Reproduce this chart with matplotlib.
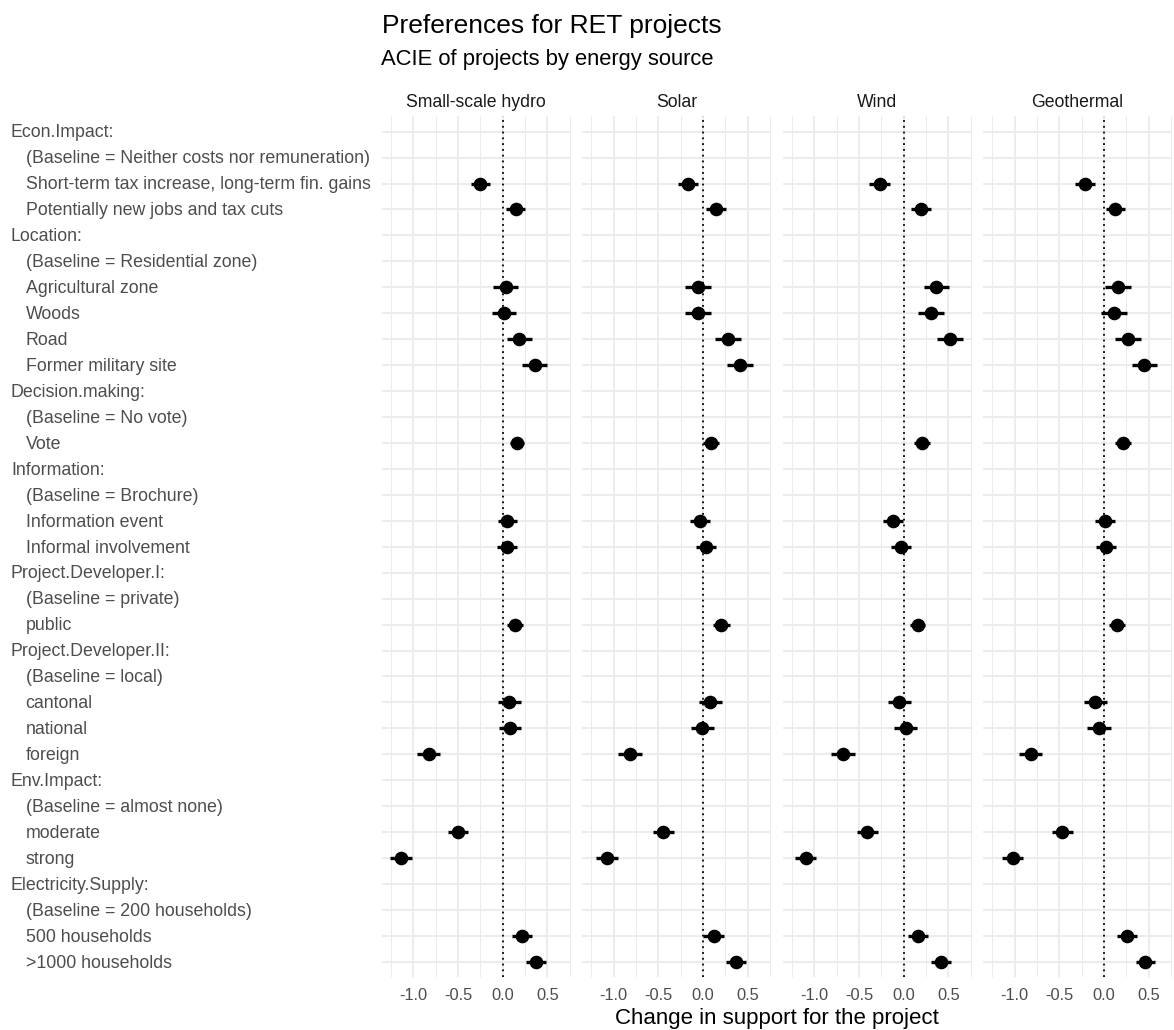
import numpy as np
import matplotlib
matplotlib.use('Agg')
import matplotlib.pyplot as plt
from matplotlib import transforms

plt.rcParams['font.family'] = ['Liberation Sans', 'DejaVu Sans']
plt.rcParams['axes.unicode_minus'] = False

# Facets (energy sources)
sources = ['Small-scale hydro', 'Solar', 'Wind', 'Geothermal']

# Rows of the y axis, top to bottom
row_labels = [
    'Econ.Impact:',
    '(Baseline = Neither costs nor remuneration)',
    'Short-term tax increase, long-term fin. gains',
    'Potentially new jobs and tax cuts',
    'Location:',
    '(Baseline = Residential zone)',
    'Agricultural zone',
    'Woods',
    'Road',
    'Former military site',
    'Decision.making:',
    '(Baseline = No vote)',
    'Vote',
    'Information:',
    '(Baseline = Brochure)',
    'Information event',
    'Informal involvement',
    'Project.Developer.I:',
    '(Baseline = private)',
    'public',
    'Project.Developer.II:',
    '(Baseline = local)',
    'cantonal',
    'national',
    'foreign',
    'Env.Impact:',
    '(Baseline = almost none)',
    'moderate',
    'strong',
    'Electricity.Supply:',
    '(Baseline = 200 households)',
    '500 households',
    '>1000 households',
]

# Levels that have an estimate
levels = [
    'Short-term tax increase, long-term fin. gains',
    'Potentially new jobs and tax cuts',
    'Agricultural zone',
    'Woods',
    'Road',
    'Former military site',
    'Vote',
    'Information event',
    'Informal involvement',
    'public',
    'cantonal',
    'national',
    'foreign',
    'moderate',
    'strong',
    '500 households',
    '>1000 households',
]

# ACIE estimates and half-width of the intervals, per source
est_hydro = [-0.25, 0.145, 0.034, 0.011, 0.183, 0.358, 0.164, 0.052, 0.049,
             0.134, 0.075, 0.082, -0.828, -0.50, -1.138, 0.216, 0.37]
err_hydro = [0.106, 0.11, 0.14, 0.136, 0.14, 0.138, 0.08, 0.106, 0.108,
             0.09, 0.127, 0.125, 0.13, 0.116, 0.12, 0.112, 0.11]

est_solar = [-0.168, 0.142, -0.056, -0.06, 0.28, 0.41, 0.093, -0.034, 0.034,
             0.205, 0.082, -0.011, -0.82, -0.444, -1.075, 0.12, 0.373]
err_solar = [0.116, 0.114, 0.144, 0.145, 0.145, 0.145, 0.09, 0.11, 0.11,
             0.097, 0.13, 0.13, 0.138, 0.114, 0.123, 0.117, 0.112]

est_wind = [-0.269, 0.194, 0.366, 0.306, 0.519, np.nan, 0.209, -0.116, -0.03,
            0.16, -0.049, 0.022, -0.683, -0.407, -1.097, 0.16, 0.418]
err_wind = [0.116, 0.112, 0.142, 0.146, 0.146, np.nan, 0.09, 0.114, 0.114,
            0.085, 0.13, 0.13, 0.135, 0.115, 0.12, 0.112, 0.112]

est_geo = [-0.213, 0.127, 0.157, 0.112, 0.269, 0.448, 0.213, 0.011, 0.019,
           0.142, -0.097, -0.056, -0.82, -0.466, -1.022, 0.254, 0.463]
err_geo = [0.108, 0.11, 0.142, 0.144, 0.144, 0.14, 0.093, 0.115, 0.11,
           0.088, 0.127, 0.132, 0.13, 0.113, 0.12, 0.112, 0.11]

estimates = [est_hydro, est_solar, est_wind, est_geo]
errors = [err_hydro, err_solar, err_wind, err_geo]

W, H = 1174, 1030
fig = plt.figure(figsize=(W / 100, H / 100), dpi=100)

# shared x range like ggplot (5% expansion)
all_lo = np.nanmin([np.array(e) - np.array(s) for e, s in zip(estimates, errors)])
all_hi = np.nanmax([np.array(e) + np.array(s) for e, s in zip(estimates, errors)])
span = all_hi - all_lo
xlim = (all_lo - 0.05 * span, all_hi + 0.05 * span)

n_rows = len(row_labels)
rows = np.arange(1, n_rows + 1)
level_y = [row_labels.index(l) + 1 for l in levels]

panel_left, panel_step, panel_w = 381.7, 200.45, 189.0
panel_top, panel_bottom = 116.1, 977.4

axes = []
for i, src in enumerate(sources):
    left = panel_left + i * panel_step
    ax = fig.add_axes([left / W, 1 - panel_bottom / H, panel_w / W,
                       (panel_bottom - panel_top) / H])
    axes.append(ax)

    ax.set_xlim(xlim)
    ax.set_ylim(n_rows + 0.6, 0.4)
    ax.set_xticks([-1.0, -0.5, 0.0, 0.5])
    ax.set_xticks([-1.25, -0.75, -0.25, 0.25, 0.75], minor=True)
    ax.xaxis.set_major_formatter(plt.FormatStrFormatter('%.1f'))
    ax.set_yticks(rows)
    ax.set_yticklabels([])
    ax.tick_params(axis='both', which='both', length=0)
    ax.tick_params(axis='x', labelsize=11.8, labelcolor='#4D4D4D', pad=7.6)
    for sp in ax.spines.values():
        sp.set_visible(False)
    ax.grid(which='major', color='#EBEBEB', lw=1.3)
    ax.grid(which='minor', axis='x', color='#EBEBEB', lw=0.7)
    ax.set_axisbelow(True)

    ax.axvline(0, color='black', lw=1.3, ls=(0, (1, 2.2)), zorder=2)

    x = np.array(estimates[i])
    e = np.array(errors[i])
    y = np.array(level_y)
    ok = ~np.isnan(x)
    ax.errorbar(x[ok], y[ok], xerr=e[ok], fmt='o', color='black', ms=8.8,
                elinewidth=2.4, capsize=0, zorder=3)

    ax.set_title(src, fontsize=12.7, color='#1A1A1A', pad=6.3)

# y labels on the left (category headers flush left, levels indented)
trans = transforms.blended_transform_factory(fig.transFigure, axes[0].transData)
trans = trans + transforms.ScaledTranslation(0, -5.8 / 100, fig.dpi_scale_trans)
for r, lab in zip(rows, row_labels):
    xpos = 11 if lab.endswith(':') else 25.7
    fig.text(xpos / W, r, lab, transform=trans, ha='left', va='baseline',
             fontsize=12.8, color='#4D4D4D')

fig.text(382.0 / W, 1 - 33.3 / H, 'Preferences for RET projects',
         fontsize=19.0, color='black', ha='left', va='baseline')
fig.text(381.0 / W, 1 - 65.0 / H, 'ACIE of projects by energy source',
         fontsize=15.8, color='black', ha='left', va='baseline')
fig.text((panel_left + (3 * panel_step + panel_w) / 2) / W, 1 - 1024 / H,
         'Change in support for the project', fontsize=16, color='black',
         ha='center', va='baseline')

fig.savefig('out.png', dpi=100, facecolor='white')
plt.close(fig)
